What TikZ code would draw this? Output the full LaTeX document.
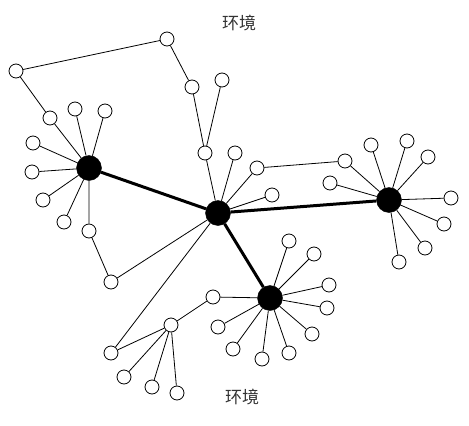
\documentclass[tikz,border=0pt]{standalone}
\usepackage{fontspec}
\newfontfamily\cjk{Noto Sans CJK SC}
\usetikzlibrary{backgrounds}
\tikzset{
  leaf/.style={draw, circle, fill=white, minimum size=14pt, inner sep=0pt, line width=0.8pt},
  hub/.style={draw, circle, fill=black, minimum size=25pt, inner sep=0pt},
  link/.style={line width=0.8pt},
  trunk/.style={line width=3pt},
  env/.style={font=\cjk\fontsize{17}{17}\selectfont, text=black!80}
}
\begin{document}
\begin{tikzpicture}[x=1pt,y=-1pt]
 \useasboundingbox (0,0) rectangle (469,426);
 % hubs
 \node [hub] (A) at (89,168) {};
 \node [hub] (C) at (218,213) {};
 \node [hub] (R) at (389,200) {};
 \node [hub] (B) at (270,298) {};
 % labels
 \node [env] (top) at (239,23) {环境};
 \node [env] (bottom) at (242,397) {环境};
 % upper chain
 \node [leaf] (t1) at (167,39) {};
 \node [leaf] (t2) at (16,71) {};
 \node [leaf] (t3) at (192,87) {};
 \node [leaf] (t4) at (222,80) {};
 \node [leaf] (t5) at (205,153) {};
 % left cluster
 \node [leaf] (a1) at (50,118) {};
 \node [leaf] (a2) at (75,109) {};
 \node [leaf] (a3) at (105,111) {};
 \node [leaf] (a4) at (33,143) {};
 \node [leaf] (a5) at (32,172) {};
 \node [leaf] (a6) at (43,200) {};
 \node [leaf] (a7) at (64,222) {};
 \node [leaf] (a8) at (89,231) {};
 \node [leaf] (a9) at (111,282) {};
 % centre
 \node [leaf] (c1) at (235,153) {};
 \node [leaf] (c2) at (257,168) {};
 \node [leaf] (c3) at (272,195) {};
 % right cluster
 \node [leaf] (r1) at (345,161) {};
 \node [leaf] (r2) at (330,183) {};
 \node [leaf] (r3) at (371,145) {};
 \node [leaf] (r4) at (407,141) {};
 \node [leaf] (r5) at (428,157) {};
 \node [leaf] (r6) at (451,198) {};
 \node [leaf] (r7) at (444,224) {};
 \node [leaf] (r8) at (425,248) {};
 \node [leaf] (r9) at (399,262) {};
 % bottom cluster
 \node [leaf] (b1) at (289,241) {};
 \node [leaf] (b2) at (314,254) {};
 \node [leaf] (b3) at (329,285) {};
 \node [leaf] (b4) at (327,308) {};
 \node [leaf] (b5) at (312,334) {};
 \node [leaf] (b6) at (289,353) {};
 \node [leaf] (b7) at (262,359) {};
 \node [leaf] (b8) at (233,349) {};
 \node [leaf] (b9) at (218,327) {};
 \node [leaf] (b10) at (213,297) {};
 % lower left
 \node [leaf] (d1) at (171,325) {};
 \node [leaf] (d2) at (111,353) {};
 \node [leaf] (d3) at (124,377) {};
 \node [leaf] (d4) at (152,387) {};
 \node [leaf] (d5) at (177,393) {};
 %
 \draw [trunk] (A) -- (C);
 \draw [trunk] (C) -- (R);
 \draw [trunk] (C) -- (B);
 %
 \draw [link] (a1) -- (t2) -- (t1) -- (t3) -- (t5) -- (C);
 \draw [link] (t4) -- (t5);
 \draw [link] (A) -- (a1);
 \draw [link] (A) -- (a2);
 \draw [link] (A) -- (a3);
 \draw [link] (A) -- (a4);
 \draw [link] (A) -- (a5);
 \draw [link] (A) -- (a6);
 \draw [link] (A) -- (a7);
 \draw [link] (A) -- (a8) -- (a9) -- (C);
 %
 \draw [link] (C) -- (c1);
 \draw [link] (C) -- (c2) -- (r1) -- (R);
 \draw [link] (C) -- (c3);
 \draw [link] (R) -- (r2);
 \draw [link] (R) -- (r3);
 \draw [link] (R) -- (r4);
 \draw [link] (R) -- (r5);
 \draw [link] (R) -- (r6);
 \draw [link] (R) -- (r7);
 \draw [link] (R) -- (r8);
 \draw [link] (R) -- (r9);
 %
 \draw [link] (B) -- (b1);
 \draw [link] (B) -- (b2);
 \draw [link] (B) -- (b3);
 \draw [link] (B) -- (b4);
 \draw [link] (B) -- (b5);
 \draw [link] (B) -- (b6);
 \draw [link] (B) -- (b7);
 \draw [link] (B) -- (b8);
 \draw [link] (B) -- (b9);
 \draw [link] (B) -- (b10) -- (d1) -- (d2) -- (C);
 \draw [link] (d1) -- (d3);
 \draw [link] (d1) -- (d4);
 \draw [link] (d1) -- (d5);
\end{tikzpicture}
\end{document}
